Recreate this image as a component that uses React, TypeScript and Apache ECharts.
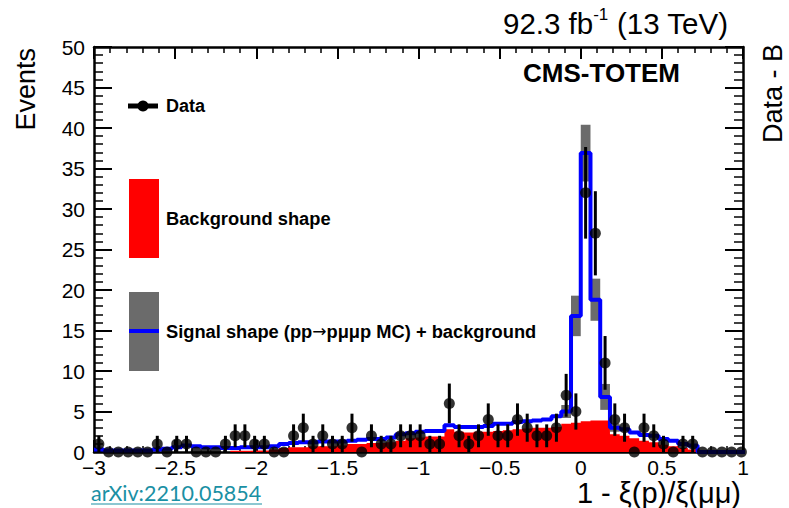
import React, { useEffect, useRef } from "react";
import * as echarts from "echarts";

// Histogram binning: 67 bins of width 0.06 starting at -3.0
const BIN_LOW_EDGE = -3.0;
const BIN_WIDTH = 0.06;

// Observed events per bin
const dataCounts = [
  1, 0, 0, 0, 0, 0, 1, 0, 1, 1, 0, 0, 0, 1, 2, 2, 1, 1, 0, 0,
  2, 3, 1, 2, 1, 1, 3, 0, 2, 1, 1, 2, 2, 2, 1, 1, 6, 2, 1, 2,
  4, 2, 2, 4, 3, 2, 2, 3, 7, 5, 32, 27, 11, 4, 3, 0, 3, 2, 1, 0,
  1, 1, 0, 0, 0, 0, 0,
];

// Background shape (red fill)
const backgroundShape = [
  0, 0, 0, 0, 0, 0, 0, 0, 0, 0, 0, 0, 0, 0, 0.15, 0.15, 0.2, 0.2, 0.3, 0.5,
  0.6, 0.6, 0.7, 0.7, 0.7, 0.8, 1.0, 1.0, 1.1, 1.1, 1.2, 1.4, 1.7, 1.8, 1.9, 1.9, 2.8, 2.5, 2.4, 2.5,
  2.5, 2.6, 2.7, 2.8, 2.9, 3.0, 3.0, 3.1, 3.5, 3.6, 3.8, 3.9, 3.9, 2.2, 2.0, 1.7, 1.4, 1.2, 0.9, 0.7,
  0.5, 0.3, 0, 0, 0, 0, 0,
];

// Signal shape (pp -> p mu mu p MC) + background (blue line)
const signalPlusBackground = [
  0.3, 0.2, 0.2, 0.2, 0.2, 0.2, 0.3, 0.4, 0.6, 0.8, 0.7, 0.6, 0.6, 0.5, 0.5, 0.6, 0.6, 0.6, 0.7, 1.0,
  1.1, 1.2, 1.2, 1.3, 1.3, 1.3, 1.4, 1.5, 1.6, 1.6, 1.8, 2.2, 2.3, 2.5, 2.6, 2.6, 3.3, 3.1, 3.1, 3.1,
  3.2, 3.5, 3.5, 3.7, 3.8, 3.9, 4.0, 4.4, 5.0, 16.8, 36.9, 18.8, 6.8, 3.0, 2.8, 2.4, 2.1, 2.0, 1.6, 1.4,
  1.0, 0.8, 0, 0, 0, 0, 0,
];

// MC uncertainty half-width (grey band), visible only around the peak
const mcBandHalfWidth = [
  0, 0, 0, 0, 0, 0, 0, 0, 0, 0, 0, 0, 0, 0, 0, 0, 0, 0, 0, 0,
  0, 0, 0, 0, 0, 0, 0, 0, 0, 0, 0, 0, 0, 0, 0, 0, 0, 0, 0, 0,
  0, 0, 0, 0, 0, 0, 0, 0, 0.8, 2.5, 3.5, 2.6, 1.6, 0.5, 0, 0, 0, 0, 0, 0,
  0, 0, 0, 0, 0, 0, 0,
];

const X_MIN = -3;
const X_MAX = 1;
const X_STEP = 0.5;
const Y_MIN = 0;
const Y_MAX = 50;
const Y_STEP = 5;

const FONT = "'Liberation Sans', Arial, Helvetica, sans-serif";

const edge = (i: number) => BIN_LOW_EDGE + i * BIN_WIDTH;
const center = (i: number) => edge(i) + BIN_WIDTH / 2;
const stepData = (vals: number[]) => [
  ...vals.map((v, i) => [edge(i), v]),
  [edge(vals.length), vals[vals.length - 1]],
];

export default function App() {
  const ref = useRef<HTMLDivElement>(null);

  useEffect(() => {
    if (!ref.current) return;
    const chart = echarts.init(ref.current, undefined, { renderer: "svg" });

    const markerData = dataCounts.map((n, i) => [center(i), n]);
    const errData = dataCounts
      .map((n, i) => [center(i), n, Math.sqrt(n)])
      .filter((d) => d[1] > 0);
    const bandData = mcBandHalfWidth
      .map((h, i) => [center(i), signalPlusBackground[i] - h, signalPlusBackground[i] + h])
      .filter((d, i) => mcBandHalfWidth[i] > 0);

    const axisLine = { show: true, onZero: false, lineStyle: { color: "#000", width: 2.5 } };
    const tickStyle = { color: "#000", width: 2 };
    const labelStyle = { color: "#000", fontSize: 21, fontFamily: FONT };
    const minus = (v: number) => String(v).replace("-", "\u2212");

    const xCommon = {
      type: "value",
      min: X_MIN,
      max: X_MAX,
      interval: X_STEP,
      splitLine: { show: false },
      axisLine,
      axisTick: { show: true, inside: true, length: 12, lineStyle: tickStyle },
      minorTick: { show: true, splitNumber: 5, length: 6, lineStyle: { color: "#000", width: 1.5 } },
    };
    const yCommon = {
      type: "value",
      min: Y_MIN,
      max: Y_MAX,
      interval: Y_STEP,
      splitLine: { show: false },
      axisLine,
      axisTick: { show: true, inside: true, length: 18, lineStyle: tickStyle },
      minorTick: { show: true, splitNumber: 5, length: 9, lineStyle: { color: "#000", width: 1.5 } },
    };

    const legendText = {
      fontSize: 18.3,
      fontWeight: "bold",
      fontFamily: FONT,
      fill: "#000",
      align: "left",
      verticalAlign: "middle",
    };

    const option: any = {
      animation: false,
      backgroundColor: "#fff",
      grid: { left: 94, right: 46, top: 47, bottom: 56, containLabel: false },
      xAxis: [
        {
          ...xCommon,
          position: "bottom",
          axisLabel: {
            ...labelStyle,
            lineHeight: 20,
            margin: 5,
            showMinLabel: true,
            showMaxLabel: true,
            formatter: minus,
          },
        },
        { ...xCommon, position: "top", axisLabel: { show: false } },
      ],
      yAxis: [
        {
          ...yCommon,
          position: "left",
          axisLabel: { ...labelStyle, margin: 9, showMinLabel: true, showMaxLabel: true },
        },
        { ...yCommon, position: "right", axisLabel: { show: false } },
      ],
      series: [
        {
          name: "Background shape",
          type: "line",
          step: "end",
          data: stepData(backgroundShape),
          symbol: "none",
          lineStyle: { width: 0, color: "#ff0000" },
          areaStyle: { color: "#ff0000", opacity: 1 },
          z: 1,
        },
        {
          name: "MC uncertainty",
          type: "custom",
          data: bandData,
          encode: { x: 0, y: [1, 2] },
          renderItem: (params: any, api: any) => {
            const c = api.value(0);
            const lo = api.value(1);
            const hi = api.value(2);
            const p1 = api.coord([c - BIN_WIDTH / 2, hi]);
            const p2 = api.coord([c + BIN_WIDTH / 2, lo]);
            return {
              type: "rect",
              shape: { x: p1[0], y: p1[1], width: p2[0] - p1[0], height: p2[1] - p1[1] },
              style: { fill: "#6b6b6b" },
            };
          },
          z: 2,
        },
        {
          name: "Signal shape + background",
          type: "line",
          step: "end",
          data: stepData(signalPlusBackground),
          symbol: "none",
          lineStyle: { width: 4, color: "#0000ff" },
          z: 3,
        },
        {
          name: "Data errors",
          type: "custom",
          data: errData,
          encode: { x: 0, y: 1 },
          renderItem: (params: any, api: any) => {
            const x = api.value(0);
            const n = api.value(1);
            const e = api.value(2);
            const top = api.coord([x, n + e]);
            const bot = api.coord([x, Math.max(0, n - e)]);
            return {
              type: "line",
              shape: { x1: top[0], y1: top[1], x2: bot[0], y2: bot[1] },
              style: { stroke: "#000", lineWidth: 3 },
            };
          },
          z: 4,
        },
        {
          name: "Data",
          type: "scatter",
          data: markerData,
          symbol: "circle",
          symbolSize: 11,
          itemStyle: { color: "#000" },
          clip: false,
          z: 5,
        },
      ],
      graphic: [
        // top-right luminosity label
        {
          type: "text",
          x: 728,
          y: 23,
          style: {
            text: "{a|92.3 fb}{s|-1}{a| (13 TeV)}",
            align: "right",
            verticalAlign: "middle",
            fill: "#000",
            rich: {
              a: { fontSize: 29.5, fontFamily: FONT, lineHeight: 35, fill: "#000" },
              s: { fontSize: 17, fontFamily: FONT, lineHeight: 35, verticalAlign: "top", fill: "#000" },
            },
          },
        },
        // experiment label
        { type: "text", x: 680, y: 73, style: { text: "CMS-TOTEM", fontSize: 26, fontWeight: "bold", fontFamily: FONT, fill: "#000", align: "right", verticalAlign: "middle" } },
        // legend: Data
        { type: "line", shape: { x1: 128, y1: 106, x2: 158, y2: 106 }, style: { stroke: "#000", lineWidth: 5 } },
        { type: "circle", shape: { cx: 143, cy: 106, r: 5.5 }, style: { fill: "#000" } },
        { type: "text", x: 166, y: 106, style: { ...legendText, fontSize: 18, text: "Data" } },
        // legend: background
        { type: "rect", shape: { x: 129, y: 179, width: 30, height: 79 }, style: { fill: "#ff0000" } },
        { type: "text", x: 166, y: 218, style: { ...legendText, text: "Background shape" } },
        // legend: signal + background
        { type: "rect", shape: { x: 129, y: 292, width: 30, height: 79 }, style: { fill: "#6b6b6b" } },
        { type: "line", shape: { x1: 129, y1: 331, x2: 159, y2: 331 }, style: { stroke: "#0000ff", lineWidth: 4 } },
        {
          type: "text",
          x: 166,
          y: 331,
          style: {
            ...legendText,
            text: "{b|Signal shape (pp}{r|\u2192}{b|p\u03bc\u03bcp MC) + background}",
            rich: {
              b: { fontSize: 18.3, fontWeight: "bold", fontFamily: FONT, fill: "#000" },
              r: { fontSize: 17, fontFamily: "'DejaVu Sans', sans-serif", fill: "#000" },
            },
          },
        },
        // axis titles
        { type: "text", x: 26, y: 48, rotation: Math.PI / 2, style: { text: "Events", fontSize: 27, fontFamily: FONT, fill: "#000", align: "right", verticalAlign: "middle" } },
        { type: "text", x: 773, y: 44, rotation: Math.PI / 2, style: { text: "Data - B", fontSize: 27, fontFamily: FONT, fill: "#000", align: "right", verticalAlign: "middle" } },
        { type: "text", x: 741, y: 493, style: { text: "1 - \u03be(p)/\u03be(\u03bc\u03bc)", fontSize: 29, fontFamily: FONT, fill: "#000", align: "right", verticalAlign: "middle" } },
        // source link
        { type: "text", x: 91, y: 493, style: { text: "arXiv:2210.05854", fontSize: 21.5, fontFamily: "Lato, 'Noto Sans', sans-serif", fill: "#1a90a4", align: "left", verticalAlign: "middle" } },
        { type: "line", shape: { x1: 91, y1: 504, x2: 262, y2: 504 }, style: { stroke: "#1a90a4", lineWidth: 1.2 } },
      ],
    };

    chart.setOption(option);
    return () => chart.dispose();
  }, []);

  return (
    <div
      ref={ref}
      style={{ position: "fixed", left: 0, top: 0, width: 789, height: 508, background: "#fff" }}
    />
  );
}
